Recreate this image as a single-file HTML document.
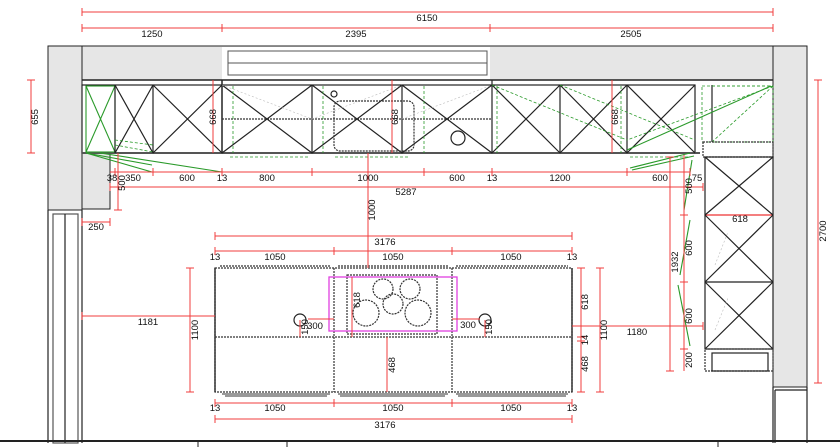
<!DOCTYPE html>
<html><head><meta charset="utf-8"><style>
html,body{margin:0;padding:0;background:#fff;width:840px;height:447px;overflow:hidden}
svg{display:block;font-family:"Liberation Sans",sans-serif;font-size:9.5px}
.r{stroke:#f03c3c;stroke-width:1;fill:none}
.k{stroke:#222;stroke-width:1.2;fill:none}
.kd{stroke:#333;stroke-width:1.2;fill:none;stroke-dasharray:2 1}
.g{stroke:#2a9a2a;stroke-width:1.1;fill:none}
.gd{stroke:#2a9a2a;stroke-width:.8;fill:none;stroke-dasharray:3 2}
.gr{stroke:#bbb;stroke-width:.6;fill:none;stroke-dasharray:2 2}
text{fill:#111}
</style></head><body>
<svg width="840" height="447" viewBox="0 0 840 447">
<rect x="48" y="46" width="759" height="34" fill="#e6e6e6" stroke="#222"/>
<rect x="48" y="46" width="34" height="164" fill="#e6e6e6" stroke="#222"/>
<rect x="773" y="46" width="34" height="341" fill="#e6e6e6" stroke="#222"/>
<rect x="82" y="153" width="28" height="56" fill="#e6e6e6" stroke="#222"/>
<rect x="222" y="47" width="268" height="33" fill="#fff" stroke="none"/>
<rect x="228" y="51" width="259" height="24" fill="#fff" stroke="#555"/>
<line x1="228" y1="63" x2="487" y2="63" stroke="#555"/>
<line x1="82" y1="80" x2="773" y2="80" stroke="#222" stroke-width="1.5"/>
<g class="k"><line x1="48" y1="210" x2="48" y2="443"/><line x1="82" y1="210" x2="82" y2="443"/>
<rect x="53" y="214" width="25" height="229" stroke="#555"/><line x1="65" y1="214" x2="65" y2="443"/></g>
<g class="k"><line x1="773" y1="387" x2="773" y2="443"/><line x1="775" y1="390" x2="775" y2="443"/><line x1="807" y1="387" x2="807" y2="443"/><line x1="775" y1="390" x2="807" y2="390"/></g>
<rect x="82" y="85" width="613" height="68" class="k"/>
<line x1="82" y1="153" x2="700" y2="153" stroke="#555" stroke-width="2"/>
<rect x="86" y="86" width="29" height="66" class="g"/>
<line x1="86" y1="86" x2="115" y2="152" class="g"/><line x1="115" y1="86" x2="86" y2="152" class="g"/>
<g class="k">
<line x1="115" y1="85" x2="115" y2="153"/><line x1="153" y1="85" x2="153" y2="153"/><line x1="222" y1="80" x2="222" y2="153" stroke-width="1.5"/>
<line x1="312" y1="85" x2="312" y2="153"/><line x1="402" y1="85" x2="402" y2="153"/><line x1="492" y1="80" x2="492" y2="153"/>
<line x1="560" y1="85" x2="560" y2="153"/><line x1="627" y1="85" x2="627" y2="153"/><line x1="712" y1="85" x2="712" y2="142"/>
<path d="M115 85L153 153M153 85L115 153M153 85L222 153M222 85L153 153M222 85L312 153M312 85L222 153M312 85L402 153M402 85L312 153M402 85L492 153M492 85L402 153M492 85L560 153M560 85L492 153M560 85L627 153M627 85L560 153M627 85L695 153M695 85L627 153"/>
</g>
<rect x="334" y="101" width="80" height="50" rx="6" class="kd"/>
<circle cx="334" cy="94" r="3" class="k"/>
<circle cx="458" cy="138" r="7" class="k"/>
<line x1="222" y1="119" x2="492" y2="119" class="kd"/>
<path d="M222 85L312 119L402 85M402 119L492 85" class="gr" stroke="#555"/>
<path d="M115 145L153 152M115 140L153 145" class="gd"/>
<path d="M492 85L627 140M560 85L695 140M712 86L773 86M773 86L712 142M773 86L627 140" class="gd"/>
<rect x="702" y="86" width="71" height="56" class="gd"/>
<line x1="771" y1="86" x2="627" y2="150" class="g"/>
<path d="M86 153L152 165M86 153L152 172M100 153L222 172" class="g"/>
<path d="M630 168L690 153M632 170L694 156M692 160L684 210M690 220L680 275M678 285L690 346" class="g"/>
<path d="M230 157H310M335 157H410M630 157H690" class="gd"/>
<line x1="233" y1="86" x2="233" y2="153" class="gd"/><line x1="323" y1="86" x2="323" y2="153" class="gd"/><line x1="424" y1="86" x2="424" y2="153" class="gd"/><line x1="497" y1="86" x2="497" y2="153" class="gd"/><line x1="621" y1="86" x2="621" y2="153" class="gd"/>
<rect x="703" y="142" width="70" height="15" class="kd"/>
<rect x="705" y="157" width="68" height="192" class="k"/>
<g class="k"><line x1="705" y1="215" x2="773" y2="215" stroke="#e33"/><line x1="705" y1="282" x2="773" y2="282"/>
<path d="M705 157L773 215M773 157L705 215M705 215L773 282M773 215L705 282M705 282L773 349M773 282L705 349"/></g>
<rect x="705" y="349" width="68" height="22" class="kd"/><rect x="712" y="353" width="56" height="18" class="k"/>
<path d="M715 265L728 232M715 330L728 298" class="gr" stroke="#555"/>
<rect x="215" y="268" width="357" height="124" class="kd"/>
<line x1="215" y1="268" x2="215" y2="392" stroke="#333" stroke-width="1.5"/>
<line x1="572" y1="268" x2="572" y2="392" stroke="#333" stroke-width="1.5"/>
<line x1="334" y1="268" x2="334" y2="392" class="kd"/><line x1="452" y1="268" x2="452" y2="392" class="kd"/>
<line x1="215" y1="337" x2="572" y2="337" class="kd"/>
<path d="M220 266H330M338 266H448M456 266H568" class="kd"/>
<path d="M222 394H330M338 394H448M456 394H568M225 396H327M340 396H445M458 396H566" stroke="#333" fill="none"/>
<rect x="347" y="275" width="90" height="59" class="kd"/>
<rect x="329" y="277" width="128" height="54" fill="none" stroke="#e040e0" stroke-width="1.3"/>
<g class="kd"><circle cx="383" cy="289" r="10"/><circle cx="410" cy="289" r="10"/><circle cx="393" cy="304" r="10"/><circle cx="366" cy="313" r="13"/><circle cx="418" cy="313" r="13"/></g>
<circle cx="300" cy="320" r="6" class="k"/><circle cx="485" cy="320" r="6" class="k"/>
<g class="r">
<path d="M82 12H773M82 8V16M773 8V16"/>
<path d="M82 28H773M82 24V32M222 24V32M490 24V32M773 24V32"/>
<path d="M31 80V153M27 80H35M27 153H35"/>
<path d="M213 80V153M392 80V153M612 80V153"/>
<path d="M110 172H690M115 168V176M153 168V176M222 168V176M312 168V176M424 168V176M492 168V176M627 168V176M690 168V176"/>
<path d="M110 187H703M110 183V191M703 183V191"/>
<path d="M118 153V210M114 210H122M82 222H110M82 218V226M110 218V226"/>
<path d="M368 153V268"/>
<path d="M215 236H572M215 232V240M572 232V240"/>
<path d="M215 251H572M215 247V255M334 247V255M452 247V255M572 247V255"/>
<path d="M215 403H572M215 399V407M334 399V407M452 399V407M572 399V407"/>
<path d="M215 419H572M215 415V423M572 415V423"/>
<path d="M190 268V392M186 268H194M186 392H194"/>
<path d="M82 316H215M82 312V320"/>
<path d="M572 326H703M703 322V330"/>
<path d="M581 268V392M577 268H585M577 337H585M577 341H585M577 392H585"/>
<path d="M600 268V392M596 268H604M596 392H604"/>
<path d="M300 320V337M485 320V337M308 319H334M452 319H480M352 277V337M387 337V392"/>
<path d="M670 157V371M666 157H674M666 371H674"/>
<path d="M684 155V371M680 215H688M680 282H688M680 349H688"/>
<path d="M818 80V383M814 80H822M814 383H822"/>
</g>
<g text-anchor="middle">
<text x="427" y="21">6150</text>
<text x="152" y="37">1250</text><text x="356" y="37">2395</text><text x="631" y="37">2505</text>
<text x="112" y="181">38</text><text x="133" y="181">350</text><text x="187" y="181">600</text><text x="222" y="181">13</text><text x="267" y="181">800</text><text x="368" y="181">1000</text><text x="457" y="181">600</text><text x="492" y="181">13</text><text x="560" y="181">1200</text><text x="660" y="181">600</text><text x="697" y="181">75</text>
<text x="406" y="195">5287</text><text x="96" y="230">250</text>
<text x="385" y="245">3176</text><text x="385" y="428">3176</text>
<text x="215" y="260">13</text><text x="275" y="260">1050</text><text x="393" y="260">1050</text><text x="511" y="260">1050</text><text x="572" y="260">13</text>
<text x="215" y="411">13</text><text x="275" y="411">1050</text><text x="393" y="411">1050</text><text x="511" y="411">1050</text><text x="572" y="411">13</text>
<text x="148" y="325">1181</text><text x="637" y="335">1180</text>
<text x="315" y="329">300</text><text x="468" y="328">300</text>
<text x="740" y="222">618</text>
</g>
<g text-anchor="middle">
<text transform="translate(38,117) rotate(-90)">655</text>
<text transform="translate(216,117) rotate(-90)">668</text>
<text transform="translate(398,117) rotate(-90)">668</text>
<text transform="translate(618,117) rotate(-90)">668</text>
<text transform="translate(125,183) rotate(-90)">500</text>
<text transform="translate(375,210) rotate(-90)">1000</text>
<text transform="translate(198,330) rotate(-90)">1100</text>
<text transform="translate(360,300) rotate(-90)">618</text>
<text transform="translate(395,365) rotate(-90)">468</text>
<text transform="translate(308,327) rotate(-90)">150</text>
<text transform="translate(492,327) rotate(-90)">150</text>
<text transform="translate(588,302) rotate(-90)">618</text>
<text transform="translate(588,340) rotate(-90)">14</text>
<text transform="translate(588,364) rotate(-90)">468</text>
<text transform="translate(607,330) rotate(-90)">1100</text>
<text transform="translate(678,262) rotate(-90)">1932</text>
<text transform="translate(692,186) rotate(-90)">500</text>
<text transform="translate(692,248) rotate(-90)">600</text>
<text transform="translate(692,316) rotate(-90)">600</text>
<text transform="translate(692,360) rotate(-90)">200</text>
<text transform="translate(826,231) rotate(-90)">2700</text>
</g>
<line x1="0" y1="441" x2="840" y2="441" stroke="#222" stroke-width="2"/>
<path d="M198 441V447M287 441V447M718 441V447" stroke="#222"/>
</svg>
</body></html>
